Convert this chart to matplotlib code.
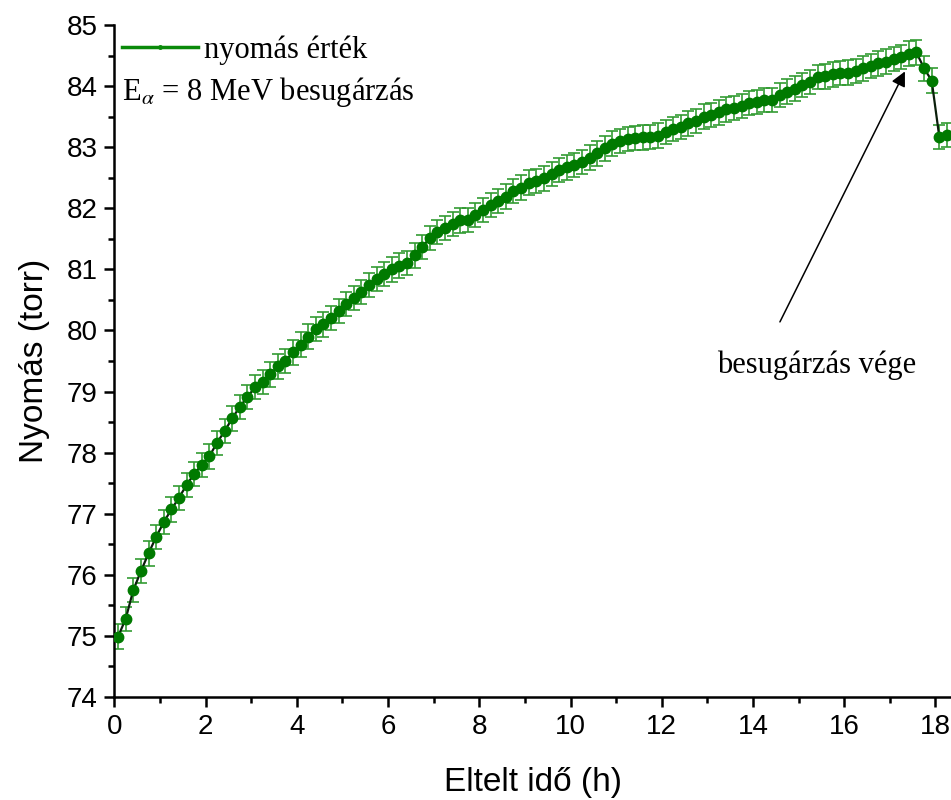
import matplotlib
matplotlib.use("Agg")
import matplotlib.pyplot as plt
from matplotlib.lines import Line2D
from matplotlib.ticker import MultipleLocator

# mérési időpontok (perc) és nyomásértékek (torr)
ido_perc = [
    5, 15, 25, 35, 45, 55, 65, 75, 85, 95,
    105, 115, 125, 135, 145, 155, 165, 175, 185, 195,
    205, 215, 225, 235, 245, 255, 265, 275, 285, 295,
    305, 315, 325, 335, 345, 355, 365, 375, 385, 395,
    405, 415, 425, 435, 445, 455, 465, 475, 485, 495,
    505, 515, 525, 535, 545, 555, 565, 575, 585, 595,
    605, 615, 625, 635, 645, 655, 665, 675, 685, 695,
    705, 715, 725, 735, 745, 755, 765, 775, 785, 795,
    805, 815, 825, 835, 845, 855, 865, 875, 885, 895,
    905, 915, 925, 935, 945, 955, 965, 975, 985, 995,
    1005, 1015, 1025, 1035, 1045, 1055, 1065, 1075, 1085, 1095,
]
nyomas = [
    74.99, 75.28, 75.75, 76.06, 76.35, 76.62, 76.86, 77.07, 77.26, 77.47,
    77.65, 77.80, 77.94, 78.16, 78.35, 78.56, 78.75, 78.91, 79.07, 79.16,
    79.28, 79.41, 79.50, 79.64, 79.77, 79.90, 80.02, 80.10, 80.20, 80.32,
    80.43, 80.53, 80.63, 80.74, 80.84, 80.92, 81.00, 81.06, 81.10, 81.23,
    81.37, 81.51, 81.61, 81.68, 81.74, 81.80, 81.81, 81.89, 81.97, 82.05,
    82.12, 82.19, 82.28, 82.34, 82.42, 82.45, 82.49, 82.56, 82.63, 82.67,
    82.71, 82.76, 82.83, 82.90, 82.98, 83.06, 83.10, 83.13, 83.15, 83.16,
    83.17, 83.19, 83.25, 83.30, 83.33, 83.39, 83.43, 83.50, 83.53, 83.57,
    83.62, 83.64, 83.67, 83.72, 83.74, 83.77, 83.77, 83.85, 83.91, 83.96,
    84.02, 84.07, 84.15, 84.16, 84.19, 84.21, 84.22, 84.25, 84.29, 84.33,
    84.37, 84.40, 84.44, 84.48, 84.53, 84.55, 84.29, 84.09, 83.17, 83.20,
]
hiba = 0.2  # torr

ido_h = [p / 60 for p in ido_perc]

plt.rcParams["mathtext.fontset"] = "stix"

fig = plt.figure(figsize=(9.51, 8.0), dpi=100)
ax = fig.add_axes([114.3 / 951, 103 / 800, 836.7 / 951, 672 / 800])

ax.errorbar(ido_h, nyomas, yerr=hiba, fmt="none", ecolor="#2f9a2f",
            elinewidth=1.3, capsize=4.5, capthick=1.3, alpha=0.9, zorder=2)
ax.plot(ido_h, nyomas, color="#0b1f0b", lw=1.6, zorder=3)
ax.plot(ido_h, nyomas, "o", color="#007a00", ms=7.5, zorder=4)

ax.set_xlim(0, 18.34)
ax.set_ylim(74, 85)
ax.xaxis.set_major_locator(MultipleLocator(2))
ax.xaxis.set_minor_locator(MultipleLocator(1))
ax.yaxis.set_major_locator(MultipleLocator(1))
ax.yaxis.set_minor_locator(MultipleLocator(0.5))

for side in ("top", "right"):
    ax.spines[side].set_visible(False)
for side in ("left", "bottom"):
    ax.spines[side].set_linewidth(1.8)

ax.tick_params(which="major", direction="out", length=7, width=1.8,
               labelsize=20, pad=5)
ax.tick_params(which="minor", direction="out", length=4, width=1.8)
for lab in ax.get_xticklabels() + ax.get_yticklabels():
    lab.set_family("Liberation Sans")

ax.set_xlabel("Eltelt idő (h)", fontsize=24, family="Liberation Sans",
              labelpad=20)
ax.set_ylabel("Nyomás (torr)", fontsize=24, family="Liberation Sans",
              labelpad=12)

# jelmagyarázat
h = Line2D([], [], color="#0a8a0a", lw=2.5, marker="o", ms=2.5)
ax.legend([h], ["nyomás érték"], loc="upper left",
          bbox_to_anchor=(0.009, 0.985), frameon=False, borderaxespad=0,
          borderpad=0, handlelength=2.5, handletextpad=0.2,
          prop={"family": "Liberation Serif", "size": 22})
ax.text(0.009, 0.900, r"E$_{\alpha}$ = 8 MeV besugárzás",
        transform=ax.transAxes, ha="left", va="center",
        family="Liberation Serif", fontsize=22)

# besugárzás vége jelölés
ax.annotate("", xy=(17.33, 84.24), xytext=(14.59, 80.14),
            arrowprops=dict(arrowstyle="-|>", color="black", lw=1.1,
                            mutation_scale=22, shrinkA=0, shrinkB=0))
ax.text(15.4, 79.43, "besugárzás vége", ha="center", va="center",
        family="Liberation Serif", fontsize=22)

fig.savefig("out.png", dpi=100)
